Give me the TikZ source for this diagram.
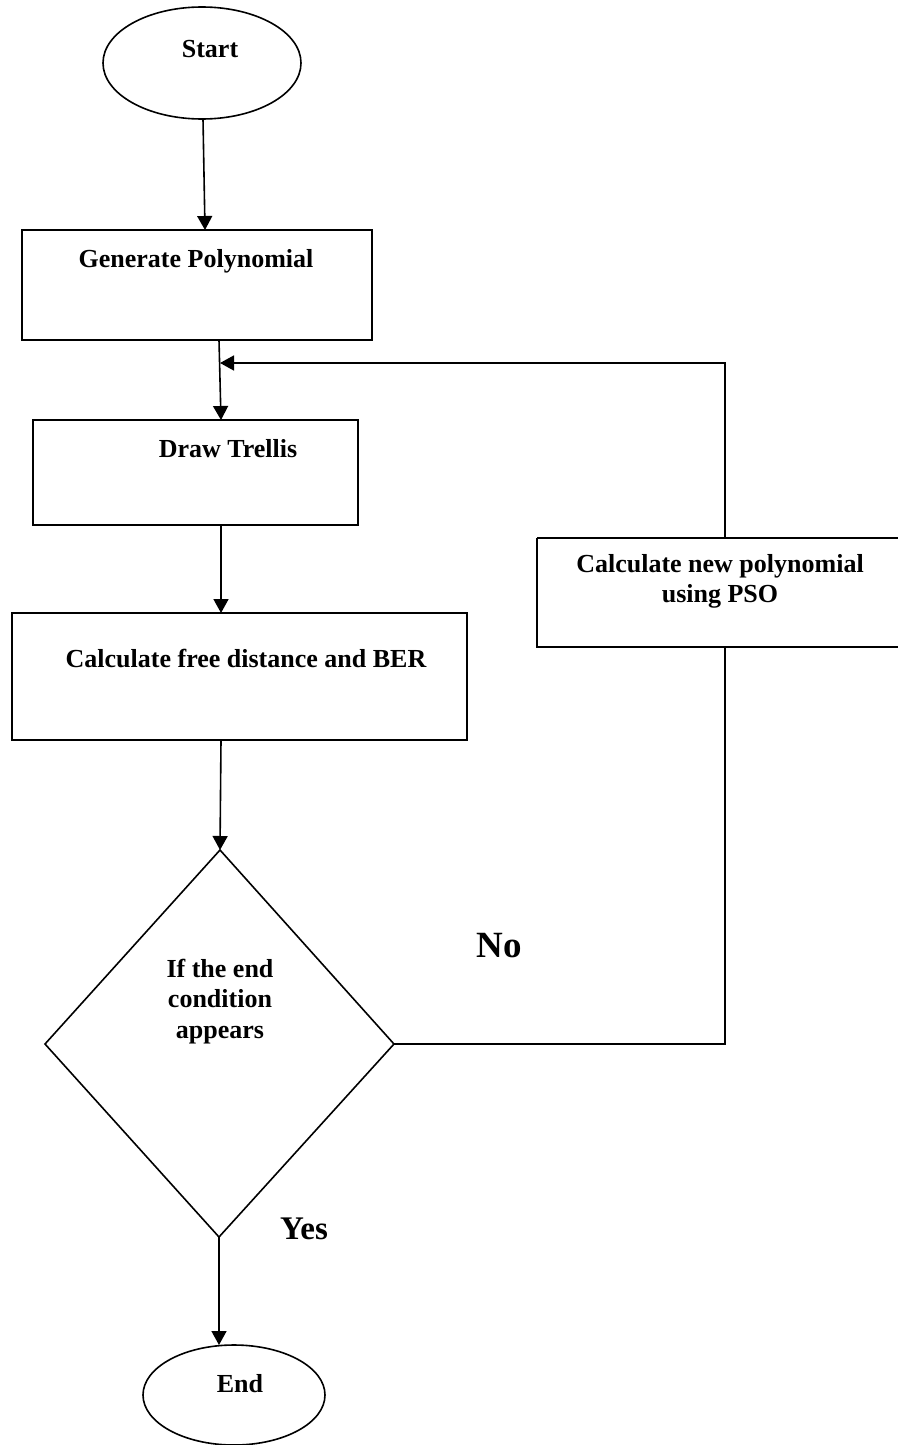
\documentclass[tikz,border=0pt]{standalone}
\usepackage{fontspec}
\setmainfont{Liberation Serif}
\usetikzlibrary{shapes.geometric,arrows.meta}
\begin{document}
\begin{tikzpicture}[x=1pt,y=-1pt,
  line width=1.6pt,
  lbl/.style={font=\bfseries\fontsize{26}{30.5}\selectfont, align=center, inner sep=0pt, anchor=base},
  nolbl/.style={font=\bfseries\fontsize{37}{40}\selectfont, inner sep=0pt, anchor=base},
  yeslbl/.style={font=\bfseries\fontsize{33}{38}\selectfont, inner sep=0pt, anchor=base},
  arr/.style={-{Triangle[length=14pt,width=15pt]}},
  box/.style={draw}
]
\useasboundingbox (0,0) rectangle (898,1445);
% shapes
\draw[box] (202,63) ellipse [x radius=99, y radius=56];
\coordinate (startB) at (203,119);
\node[lbl] (startT) at (210,58) {Start};

\draw[box] (22,230) rectangle (372,340);
\coordinate (genT) at (205,230);
\coordinate (genB) at (219,340);
\node[lbl] (genL) at (196,267) {Generate Polynomial};

\draw[box] (33,420) rectangle (358,525);
\coordinate (treT) at (221,420);
\coordinate (treB) at (221,525);
\node[lbl] (treL) at (228,457) {Draw Trellis};

\draw[box] (537,538) -- (898,538) (537,538) -- (537,647) -- (898,647);
\coordinate (psoT) at (725,538);
\coordinate (psoB) at (725,647);
\node[lbl] (psoL1) at (720,572) {Calculate new polynomial};
\node[lbl] (psoL2) at (720,602) {using PSO};

\draw[box] (12,613) rectangle (467,740);
\coordinate (calT) at (221,613);
\coordinate (calB) at (221,740);
\node[lbl] (calL) at (246,667) {Calculate free distance and BER};

\draw[box] (220,850) -- (394,1044) -- (219,1237) -- (45,1044) -- cycle;
\coordinate (diaT) at (220,850);
\coordinate (diaR) at (394,1044);
\coordinate (diaB) at (219,1237);
\node[lbl] (diaL1) at (220,977) {If the end};
\node[lbl] (diaL2) at (220,1007) {condition};
\node[lbl] (diaL3) at (220,1038) {appears};

\draw[box] (234,1395) ellipse [x radius=91, y radius=50];
\coordinate (endT) at (219,1345);
\node[lbl] (endL) at (240,1392) {End};

\node[nolbl] (no) at (499,957) {No};
\node[yeslbl] (yes) at (304,1239) {Yes};

% connectors
\draw[arr] (startB) -- (genT);
\draw[arr] (genB) -- (treT);
\draw[arr] (treB) -- (calT);
\draw[arr] (calB) -- (diaT);
\draw[arr] (diaB) -- (endT);
\draw (diaR) -- (725,1044) -- (psoB);
\coordinate (fb) at (220,363);
\draw[arr] (psoT) -- (725,363) -- (fb);
\end{tikzpicture}
\end{document}
